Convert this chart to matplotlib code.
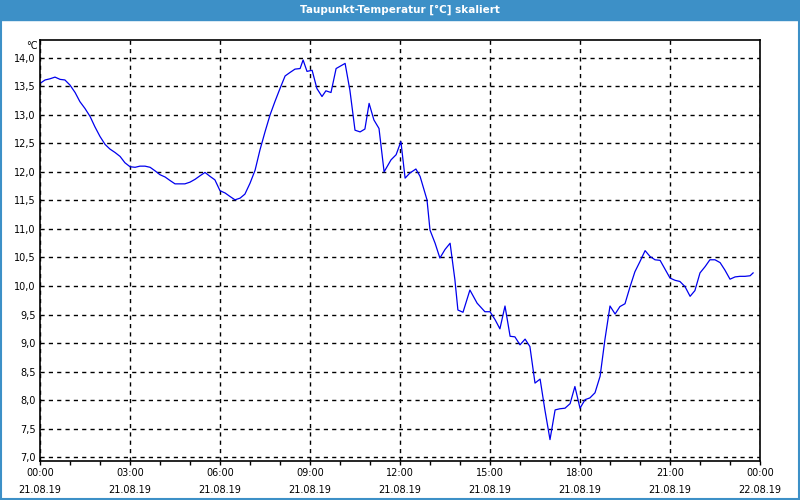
import numpy as np
import matplotlib.pyplot as plt
from matplotlib.patches import Rectangle

# dew point readings, hours since 21.08.19 00:00
hours = [0.0, 0.17, 0.33, 0.5, 0.67, 0.83, 1.0, 1.17, 1.33, 1.5, 1.67, 1.83,
         2.0, 2.17, 2.33, 2.5, 2.67, 2.83, 3.0, 3.17, 3.33, 3.5, 3.67, 3.83,
         4.0, 4.17, 4.33, 4.5, 4.67, 4.83, 5.0, 5.17, 5.33, 5.5, 5.67, 5.83,
         6.0, 6.17, 6.33, 6.5, 6.67, 6.83, 7.0, 7.17, 7.33, 7.5, 7.67, 7.83,
         8.0, 8.17, 8.33, 8.5, 8.67, 8.77, 8.9, 9.07, 9.23, 9.4, 9.53, 9.7,
         9.87, 10.17, 10.33, 10.5, 10.67, 10.83, 10.97, 11.13, 11.3, 11.47,
         11.7, 11.87, 12.03, 12.17, 12.33, 12.53, 12.67, 12.9, 13.0, 13.17,
         13.33, 13.5, 13.67, 13.83, 13.93, 14.1, 14.33, 14.57, 14.83, 15.0,
         15.17, 15.33, 15.5, 15.67, 15.83, 16.0, 16.17, 16.33, 16.5, 16.67,
         16.83, 17.0, 17.17, 17.33, 17.5, 17.67, 17.83, 18.0, 18.17, 18.33,
         18.5, 18.67, 18.83, 19.0, 19.17, 19.33, 19.5, 19.67, 19.83, 20.0,
         20.17, 20.33, 20.5, 20.67, 20.83, 21.0, 21.17, 21.33, 21.5, 21.67,
         21.83, 22.0, 22.17, 22.33, 22.5, 22.67, 22.83, 23.0, 23.17, 23.33,
         23.5, 23.67, 23.77]
dewpoint = [13.55, 13.61, 13.63, 13.66, 13.62, 13.61, 13.52, 13.39, 13.23,
            13.11, 12.97, 12.79, 12.62, 12.48, 12.40, 12.34, 12.27, 12.16,
            12.09, 12.08, 12.10, 12.10, 12.08, 12.02, 11.95, 11.91, 11.85,
            11.79, 11.79, 11.79, 11.82, 11.87, 11.93, 11.99, 11.92, 11.86,
            11.67, 11.63, 11.57, 11.51, 11.54, 11.61, 11.80, 12.03, 12.38,
            12.70, 13.00, 13.23, 13.46, 13.68, 13.74, 13.80, 13.81, 13.96,
            13.76, 13.78, 13.46, 13.32, 13.42, 13.39, 13.81, 13.90, 13.43,
            12.73, 12.70, 12.75, 13.20, 12.91, 12.76, 12.00, 12.21, 12.30,
            12.53, 11.89, 11.98, 12.05, 11.92, 11.51, 10.98, 10.75, 10.49,
            10.64, 10.75, 10.11, 9.58, 9.54, 9.93, 9.70, 9.55, 9.55, 9.41,
            9.25, 9.65, 9.12, 9.11, 8.97, 9.07, 8.94, 8.30, 8.37, 7.83, 7.31,
            7.83, 7.85, 7.86, 7.94, 8.24, 7.86, 8.01, 8.04, 8.13, 8.42, 9.06,
            9.65, 9.51, 9.64, 9.69, 9.99, 10.25, 10.43, 10.62, 10.52, 10.46,
            10.45, 10.30, 10.14, 10.10, 10.08, 9.99, 9.82, 9.92, 10.23, 10.34,
            10.46, 10.46, 10.41, 10.28, 10.12, 10.16, 10.17, 10.17, 10.18,
            10.23]

tick_hours = [0, 3, 6, 9, 12, 15, 18, 21, 24]
tick_labels = ['00:00\n21.08.19', '03:00\n21.08.19', '06:00\n21.08.19',
               '09:00\n21.08.19', '12:00\n21.08.19', '15:00\n21.08.19',
               '18:00\n21.08.19', '21:00\n21.08.19', '00:00\n22.08.19']
y_ticks = [7.0, 7.5, 8.0, 8.5, 9.0, 9.5, 10.0, 10.5, 11.0, 11.5, 12.0, 12.5,
           13.0, 13.5, 14.0]

title_blue = '#3d90c7'

fig = plt.figure(figsize=(8, 5), dpi=100)
fig.patch.set_facecolor('white')

# title bar and frame around the whole picture
fig.patches.append(Rectangle((0, 0.96), 1, 0.04, transform=fig.transFigure,
                             color=title_blue, zorder=0))
fig.patches.append(Rectangle((0.001, 0.002), 0.998, 0.996,
                             transform=fig.transFigure, fill=False,
                             edgecolor=title_blue, lw=1.5, zorder=0))
fig.text(0.5, 0.981, 'Taupunkt-Temperatur [°C] skaliert', color='white',
         ha='center', va='center', fontsize=7.5, fontweight='bold')

ax = fig.add_axes([0.05, 0.078, 0.90, 0.842])
ax.plot(hours, dewpoint, color='#0000ee', lw=0.9)

ax.set_xlim(0, 24)
ax.set_ylim(6.935, 14.31)
ax.set_xticks(tick_hours)
ax.set_xticklabels(tick_labels, fontsize=7, linespacing=1.85)
ax.set_xticks(np.arange(0, 25, 1), minor=True)
ax.set_yticks(y_ticks)
ax.set_yticklabels([f'{v:.1f}'.replace('.', ',') for v in y_ticks],
                   fontsize=7)
ax.tick_params(axis='x', which='both', direction='out', length=3, pad=2,
               width=1)
ax.tick_params(axis='y', length=0, pad=3)

ax.grid(True, which='major', color='black', ls=(0, (3, 3)), lw=1)
for s in ax.spines.values():
    s.set_linewidth(1.2)

ax.text(-0.003, 1.0 - 6 / 421, '°C', transform=ax.transAxes, ha='right',
        va='center', fontsize=7)

fig.savefig('out.png', dpi=100)
